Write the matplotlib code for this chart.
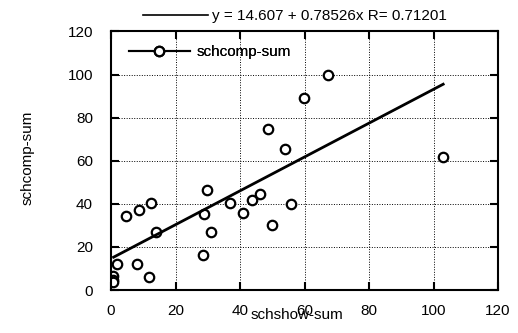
import matplotlib
matplotlib.use("Agg")
import matplotlib.pyplot as plt
from matplotlib.lines import Line2D

plt.rcParams["font.family"] = ["Liberation Sans", "DejaVu Sans"]
plt.rcParams["font.size"] = 11

# schshow-sum vs schcomp-sum per school
schshow = [48.7, 53.9, 29.8, 37.0, 43.7, 46.1, 55.8, 41.0, 49.8, 28.8, 30.9,
           28.6, 4.8, 8.6, 12.4, 13.8, 2.0, 8.1, 11.9, 0.5, 0.5, 0.5,
           67.3, 59.8, 102.8]
schcomp = [74.9, 65.6, 46.3, 40.2, 41.8, 44.4, 40.1, 35.9, 30.0, 35.1, 26.8,
           16.1, 34.5, 37.1, 40.4, 26.8, 11.9, 11.9, 6.2, 6.5, 4.6, 3.6,
           99.8, 89.0, 61.9]

# least-squares fit reported above the plot
intercept = 14.607
slope = 0.78526
r_value = 0.71201
fit_x = [0.8, 103.0]

xticks = [0, 20, 40, 60, 80, 100, 120]
yticks = [0, 20, 40, 60, 80, 100, 120]

fig = plt.figure(figsize=(5.18, 3.33), dpi=100)
ax = fig.add_axes([0.2143, 0.1291, 0.7471, 0.7766])

ax.plot(schshow, schcomp, linestyle="none", marker="o", markersize=6.8,
        markerfacecolor="white", markeredgecolor="black", markeredgewidth=1.6)
fit_y = [intercept + slope * x for x in fit_x]
ax.plot(fit_x, fit_y, color="black", linewidth=2.0)

ax.set_xlim(0, 120)
ax.set_ylim(0, 120)
ax.set_xticks(xticks)
ax.set_yticks(yticks)
ax.grid(True, color="black", linestyle=(0, (1, 1.6)), linewidth=0.7)
ax.set_axisbelow(True)
for s in ax.spines.values():
    s.set_linewidth(1.5)
ax.tick_params(direction="in", length=6, width=1.5, top=True, right=True,
               labelsize=11)
ax.tick_params(axis="x", pad=10)
ax.tick_params(axis="y", pad=13)

ax.set_xlabel("schshow-sum", fontsize=11)
ax.xaxis.set_label_coords(0.48, -0.068)
ax.set_ylabel("schcomp-sum", fontsize=11)
ax.yaxis.set_label_coords(-0.197, 0.51)

# series legend inside the plot
series_handle = Line2D([], [], color="black", linewidth=1.5, marker="o",
                       markersize=6.8, markerfacecolor="white",
                       markeredgewidth=1.6)
leg = ax.legend([series_handle], ["schcomp-sum"], loc="upper left",
                bbox_to_anchor=(0.03, 0.97), frameon=False, handlelength=4.0,
                handletextpad=0.45, fontsize=11, borderaxespad=0)
ax.add_artist(leg)

# fit line legend above the plot
fit_handle = Line2D([], [], color="black", linewidth=1.2)
fig.legend([fit_handle],
           ["y = %.3f + %.5fx R= %.5f" % (intercept, slope, r_value)],
           loc="center", bbox_to_anchor=(0.569, 0.952), frameon=False,
           handlelength=4.3, handletextpad=0.25, fontsize=11)

fig.savefig("out.png", dpi=100)
